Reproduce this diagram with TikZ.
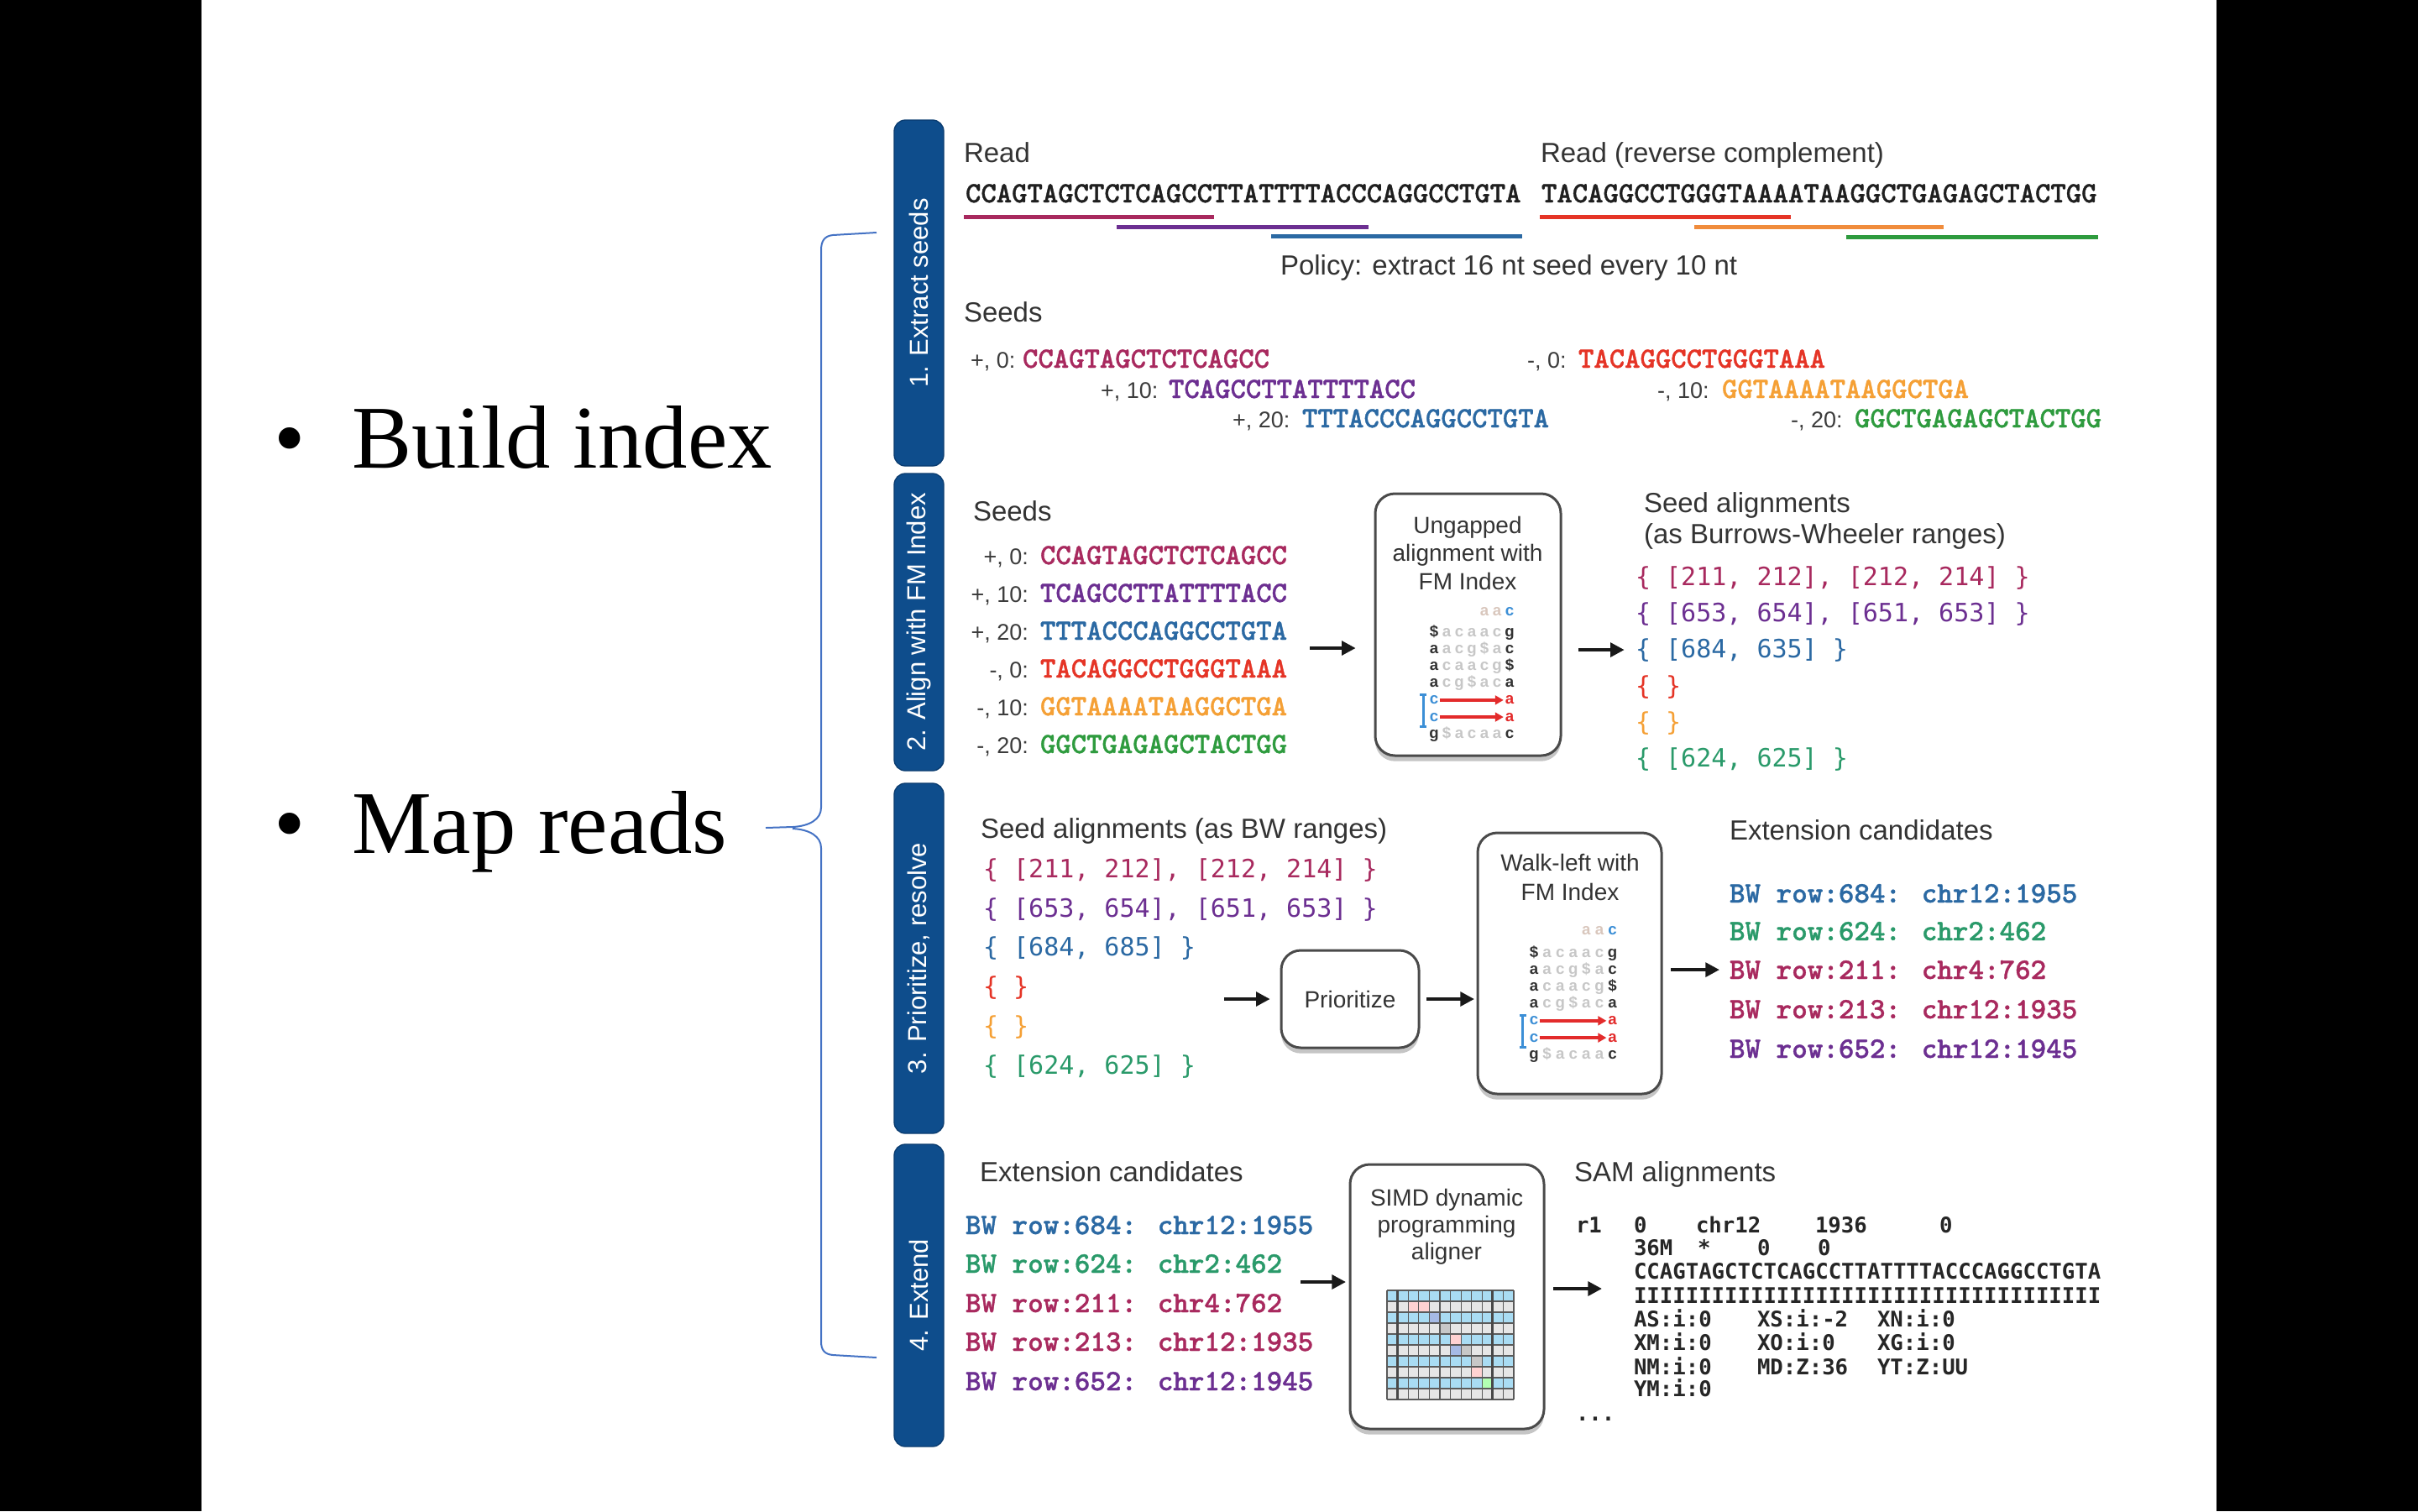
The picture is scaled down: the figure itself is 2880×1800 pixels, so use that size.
\documentclass[tikz,border=0pt]{standalone}
\usepackage{fontspec}
\setmainfont{Liberation Serif}
\newfontfamily\hv{Liberation Sans}
\newfontfamily\dvm{DejaVu Sans Mono}
\newfontfamily\lmb{lmmonolt10-bold.otf}[FakeBold=1.0]
\usetikzlibrary{arrows.meta,shadows,calc}

\definecolor{headc}{HTML}{333333}
\definecolor{labc}{HTML}{3C3C3C}
\definecolor{boxc}{HTML}{4A4A4A}
\definecolor{tabc}{HTML}{0E4D8C}
\definecolor{tabd}{HTML}{0A3C70}
\definecolor{qblue}{HTML}{3C8FD6}
\definecolor{qred}{HTML}{E32B2B}
\definecolor{aacc}{HTML}{D9C7BD}
\definecolor{brc}{HTML}{4472C4}
\definecolor{gblue}{HTML}{A9DCF3}
\definecolor{ggray}{HTML}{E6E6E6}
\definecolor{gline}{HTML}{5A5A5A}
\definecolor{c1}{HTML}{A8295E}
\definecolor{c2}{HTML}{6C2F91}
\definecolor{c3}{HTML}{2B69A3}
\definecolor{c4}{HTML}{E53426}
\definecolor{c5}{HTML}{F5A035}
\definecolor{c5l}{HTML}{F08C3C}
\definecolor{c6}{HTML}{2E9B3E}
\definecolor{c6g}{HTML}{2A9A6A}

\tikzset{
  every node/.style={inner sep=0pt, outer sep=0pt},
  bul/.style={anchor=base west, font=\fontsize{32pt}{38pt}\selectfont, text=black},
  head/.style={anchor=base west, font=\hv\fontsize{9.9pt}{11pt}\selectfont, text=headc},
  lab/.style={anchor=base west, font=\hv\fontsize{8.1pt}{9pt}\selectfont, text=labc},
  labr/.style={lab, anchor=base east},
  seq/.style={anchor=base west, font=\lmb\fontsize{10.5pt}{11pt}\selectfont},
  rng/.style={anchor=base west, font=\dvm\fontsize{9pt}{10pt}\selectfont},
  cand/.style={anchor=base west, font=\lmb\fontsize{10.6pt}{11pt}\selectfont},
  sam/.style={anchor=base west, font=\dvm\bfseries\fontsize{7.7pt}{9pt}\selectfont, text=black!85},
  boxt/.style={anchor=base, font=\hv\fontsize{8.4pt}{9pt}\selectfont, text=headc},
  procbox/.style={draw=boxc, line width=0.9pt, rounded corners=7pt, fill=white,
     drop shadow={shadow xshift=0pt, shadow yshift=-2pt, opacity=0.45}},
  tabbox/.style={fill=tabc, draw=tabd, line width=0.4pt, rounded corners=4pt, rotate=90,
     text=white, font=\hv\fontsize{9.3pt}{10pt}\selectfont},
  arr/.style={-{Triangle[length=5pt,width=5pt]}, line width=1.2pt, draw=black!90},
  redarr/.style={-{Triangle[length=3pt,width=3.2pt]}, line width=1pt, draw=qred, shorten <=0.4pt, shorten >=0.6pt},
  uline/.style={line width=1.5pt},
  bwtb/.style={anchor=base, font=\hv\bfseries\fontsize{5.6pt}{6pt}\selectfont, text=black!80},
  bwtm/.style={anchor=base, font=\hv\bfseries\fontsize{5.6pt}{6pt}\selectfont, text=black!22},
  brace/.style={draw=brc, line width=0.6pt},
}

% one row of the BWT matrix: #1 prefix, #2 x0, #3 baseline, #4 dx, #5 first, #6 middle list, #7 last
\newcommand{\bwtrow}[7]{%
  \node[bwtb] (#1f) at ({#2},{#3}) {#5};
  \foreach \ch [count=\cc] in {#6} {\node[bwtm] (#1m\cc) at ({#2+\cc*#4},{#3}) {\ch};}
  \node[bwtb] (#1l) at ({#2+6*#4},{#3}) {#7};
}
% BWT matrix: #1 prefix, #2 x0, #3 top baseline, #4 dx, #5 dy, #6 first row baseline
\newcommand{\bwtbox}[6]{%
  \node[bwtm,text=aacc] (#1ta) at ({#2+4*#4},{#3}) {a};
  \node[bwtm,text=aacc] (#1tb) at ({#2+5*#4},{#3}) {a};
  \node[bwtb,text=qblue] (#1tc) at ({#2+6*#4},{#3}) {c};
  \bwtrow{#1a}{#2}{#6}{#4}{\$}{a,c,a,a,c}{g}
  \bwtrow{#1b}{#2}{#6+#5}{#4}{a}{a,c,g,\$,a}{c}
  \bwtrow{#1c}{#2}{#6+2*#5}{#4}{a}{c,a,a,c,g}{\$}
  \bwtrow{#1d}{#2}{#6+3*#5}{#4}{a}{c,g,\$,a,c}{a}
  \node[bwtb,text=qblue] (#1ef) at ({#2},{#6+4*#5}) {c};
  \node[bwtb,text=qred] (#1el) at ({#2+6*#4},{#6+4*#5}) {a};
  \node[bwtb,text=qblue] (#1ff) at ({#2},{#6+5*#5}) {c};
  \node[bwtb,text=qred] (#1fl) at ({#2+6*#4},{#6+5*#5}) {a};
  \draw[redarr] (#1ef.east) -- (#1el.west);
  \draw[redarr] (#1ff.east) -- (#1fl.west);
  \bwtrow{#1g}{#2}{#6+6*#5}{#4}{g}{\$,a,c,a,a}{c}
  \draw[qblue, line width=0.9pt] ({#2-0.85*#4},{#6+4*#5-11}) -- ({#2-0.85*#4},{#6+5*#5+6});
  \draw[qblue, line width=0.9pt] ({#2-0.85*#4-4},{#6+4*#5-11}) -- ({#2-0.85*#4+4},{#6+4*#5-11});
  \draw[qblue, line width=0.9pt] ({#2-0.85*#4-4},{#6+5*#5+6}) -- ({#2-0.85*#4+4},{#6+5*#5+6});
}

\begin{document}
\begin{tikzpicture}[x=0.3pt,y=-0.3pt]
\useasboundingbox (0,0) rectangle (2880,1800);
\fill[white] (0,0) rectangle (2880,1800);
\fill[black] (0,0) rectangle (240,1800);
\fill[black] (2640,0) rectangle (2880,1800);

% ---------- bullets ----------
\node[bul] (b1) at (326,557) {•};
\node[bul] (t1) at (419,557) {Build index};
\node[bul] (b2) at (326,1016) {•};
\node[bul] (t2) at (419,1016) {Map reads};

% ---------- brace ----------
\draw[brace] (1044,277) -- (992,280) .. controls (982,281) and (978,287) .. (978,298)
   -- (978,962) .. controls (978,976) and (964,984) .. (944,985) -- (912,986);
\draw[brace] (944,987) .. controls (964,988) and (978,996) .. (978,1010)
   -- (978,1598) .. controls (978,1608) and (982,1613) .. (992,1614) -- (1044,1617);

% ---------- tabs ----------
\node[tabbox, minimum width=123.6pt, minimum height=17.7pt] (tab1) at (1094.5,349) {1. Extract seeds};
\node[tabbox, minimum width=106.2pt, minimum height=17.7pt] (tab2) at (1094.5,741) {2. Align with FM Index};
\node[tabbox, minimum width=125.1pt, minimum height=17.7pt] (tab3) at (1094.5,1141.5) {3. Prioritize, resolve};
\node[tabbox, minimum width=108pt, minimum height=17.7pt] (tab4) at (1094.5,1543) {4. Extend};

% ---------- section 1 ----------
\node[head] (s1read) at (1148,193) {Read};
\node[seq,text=black!88] (s1seq) at (1150,241) {CCAGTAGCTCTCAGCCTTATTTTACCCAGGCCTGTA};
\node[head] (s1rc) at (1835,193) {Read (reverse complement)};
\node[seq,text=black!88] (s1rcseq) at (1836,241) {TACAGGCCTGGGTAAAATAAGGCTGAGAGCTACTGG};
\draw[uline,c1] (1148,258) -- (1446,258);
\draw[uline,c2] (1330,270) -- (1630,270);
\draw[uline,c3] (1514,281) -- (1813,281);
\draw[uline,c4] (1834,258) -- (2133,258);
\draw[uline,c5l] (2018,270) -- (2315,270);
\draw[uline,c6] (2199,282) -- (2499,282);
\node[head] (s1pol) at (1525,327) {Policy: extract 16 nt seed every 10 nt};
\node[head] (s1seeds) at (1148,383) {Seeds};
\node[lab] (s1l1) at (1156,438) {+, 0:};
\node[seq,text=c1] (s1q1) at (1218,438) {CCAGTAGCTCTCAGCC};
\node[lab] (s1l2) at (1311,474) {+, 10:};
\node[seq,text=c2] (s1q2) at (1392,474) {TCAGCCTTATTTTACC};
\node[lab] (s1l3) at (1468,509) {+, 20:};
\node[seq,text=c3] (s1q3) at (1551,509) {TTTACCCAGGCCTGTA};
\node[lab] (s1l4) at (1819,438) {-, 0:};
\node[seq,text=c4] (s1q4) at (1880,438) {TACAGGCCTGGGTAAA};
\node[lab] (s1l5) at (1974,474) {-, 10:};
\node[seq,text=c5] (s1q5) at (2051,474) {GGTAAAATAAGGCTGA};
\node[lab] (s1l6) at (2133,509) {-, 20:};
\node[seq,text=c6] (s1q6) at (2209,509) {GGCTGAGAGCTACTGG};

% ---------- section 2 ----------
\node[head] (s2h) at (1159,620) {Seeds};
\node[labr] (s2l1) at (1225,672) {+, 0:};
\node[seq,text=c1] (s2q1) at (1239,672) {CCAGTAGCTCTCAGCC};
\node[labr] (s2l2) at (1225,717) {+, 10:};
\node[seq,text=c2] (s2q2) at (1239,717) {TCAGCCTTATTTTACC};
\node[labr] (s2l3) at (1225,762) {+, 20:};
\node[seq,text=c3] (s2q3) at (1239,762) {TTTACCCAGGCCTGTA};
\node[labr] (s2l4) at (1225,807) {-, 0:};
\node[seq,text=c4] (s2q4) at (1239,807) {TACAGGCCTGGGTAAA};
\node[labr] (s2l5) at (1225,852) {-, 10:};
\node[seq,text=c5] (s2q5) at (1239,852) {GGTAAAATAAGGCTGA};
\node[labr] (s2l6) at (1225,897) {-, 20:};
\node[seq,text=c6] (s2q6) at (1239,897) {GGCTGAGAGCTACTGG};

\node[procbox, minimum width=66.3pt, minimum height=93.6pt] (ungap) at (1748.5,744) {};
\node[boxt] (u1) at (1748,635) {Ungapped};
\node[boxt] (u2) at (1748,668) {alignment with};
\node[boxt] (u3) at (1748,702) {FM Index};
\bwtbox{ua}{1708}{733}{15}{20.2}{758}

\node[head] (s2h2) at (1958,610) {Seed alignments};
\node[head] (s2h3) at (1958,647) {(as Burrows-Wheeler ranges)};
\node[rng,text=c1] (r21) at (1948,697) {\{ [211, 212], [212, 214] \}};
\node[rng,text=c2] (r22) at (1948,740) {\{ [653, 654], [651, 653] \}};
\node[rng,text=c3] (r23) at (1948,783) {\{ [684, 635] \}};
\node[rng,text=c4] (r24) at (1948,827) {\{ \}};
\node[rng,text=c5] (r25) at (1948,870) {\{ \}};
\node[rng,text=c6g] (r26) at (1948,913) {\{ [624, 625] \}};

\coordinate (a21s) at (1560,772);
\draw[arr, shorten >=7pt] (a21s) -- (a21s -| ungap.west);
\draw[arr, shorten <=6.3pt, shorten >=4pt] (ungap.east |- r23.west) -- (r23.west);

% ---------- section 3 ----------
\node[head] (s3h) at (1168,998) {Seed alignments (as BW ranges)};
\node[rng,text=c1] (r31) at (1171,1045) {\{ [211, 212], [212, 214] \}};
\node[rng,text=c2] (r32) at (1171,1092) {\{ [653, 654], [651, 653] \}};
\node[rng,text=c3] (r33) at (1171,1138) {\{ [684, 685] \}};
\node[rng,text=c4] (r34) at (1171,1185) {\{ \}};
\node[rng,text=c5] (r35) at (1171,1232) {\{ \}};
\node[rng,text=c6g] (r36) at (1171,1279) {\{ [624, 625] \}};

\node[procbox, minimum width=49.2pt, minimum height=34.8pt, font=\hv\fontsize{8.4pt}{9pt}\selectfont, text=headc] (prior) at (1608,1190) {Prioritize};
\node[procbox, minimum width=65.7pt, minimum height=93.3pt] (walk) at (1869.5,1147.5) {};
\node[boxt] (w1) at (1870,1037) {Walk-left with};
\node[boxt] (w2) at (1870,1072) {FM Index};
\bwtbox{wa}{1827}{1113}{15.6}{20.2}{1140}

\node[head] (s3h2) at (2060,1000) {Extension candidates};
\node[cand,text=c3] (k31) at (2060,1075) {BW row:684: chr12:1955};
\node[cand,text=c6g] (k32) at (2060,1120) {BW row:624: chr2:462};
\node[cand,text=c1] (k33) at (2060,1166) {BW row:211: chr4:762};
\node[cand,text=c1] (k34) at (2060,1213) {BW row:213: chr12:1935};
\node[cand,text=c2] (k35) at (2060,1260) {BW row:652: chr12:1945};

\coordinate (a31s) at (1458,1190);
\draw[arr, shorten >=4pt] (a31s) -- (prior.west);
\draw[arr, shorten <=2.7pt, shorten >=1.2pt] (prior.east) -- (prior.east -| walk.west);
\draw[arr, shorten <=3.3pt, shorten >=3.6pt] (walk.east |- k33.west) -- (k33.west);

% ---------- section 4 ----------
\node[head] (s4h) at (1167,1407) {Extension candidates};
\node[cand,text=c3] (k41) at (1150,1470) {BW row:684: chr12:1955};
\node[cand,text=c6g] (k42) at (1150,1516) {BW row:624: chr2:462};
\node[cand,text=c1] (k43) at (1150,1563) {BW row:211: chr4:762};
\node[cand,text=c1] (k44) at (1150,1609) {BW row:213: chr12:1935};
\node[cand,text=c2] (k45) at (1150,1656) {BW row:652: chr12:1945};

\node[procbox, minimum width=69.3pt, minimum height=94.5pt] (simd) at (1723.5,1544.5) {};
\node[boxt] (m1) at (1723,1436) {SIMD dynamic};
\node[boxt] (m2) at (1723,1468) {programming};
\node[boxt] (m3) at (1723,1500) {aligner};

% DP grid
\foreach \r in {0,2,4,6,8} \fill[gblue] (1652,{1537+\r*13}) rectangle (1803,{1550+\r*13});
\foreach \r in {1,3,5,7,9} \fill[ggray] (1652,{1537+\r*13}) rectangle (1803,{1550+\r*13});
\foreach \c/\r/\col in {2/1/pink!70, 3/1/pink!70, 4/2/cyan!45!blue!35, 5/3/black!22, 6/4/pink!70, 6/5/cyan!45!blue!35, 7/5/black!22, 8/6/black!22, 8/7/pink!70, 9/8/green!30}
  \fill[\col] ({1652+\c*12.583},{1537+\r*13}) rectangle ({1652+(\c+1)*12.583},{1550+\r*13});
\foreach \c in {0,1,2,3,4,5,6,7,8,9,10,11,12} \draw[gline, line width=0.35pt] ({1652+\c*12.583},1537) -- ({1652+\c*12.583},1667);
\foreach \r in {0,1,2,3,4,5,6,7,8,9,10} \draw[gline, line width=0.35pt] (1652,{1537+\r*13}) -- (1803,{1537+\r*13});
\draw[gline!80!black, line width=0.9pt] ({1652+1*12.583},1537) -- ({1652+1*12.583},1667);
\draw[gline!80!black, line width=0.9pt] ({1652+10*12.583},1537) -- ({1652+10*12.583},1667);

\node[head] (s4h2) at (1875,1407) {SAM alignments};
\foreach \t/\x/\y [count=\i] in {
  r1/1877/1468, 0/1946/1468, chr12/2020/1468, 1936/2162/1468, 0/2310/1468,
  36M/1946/1495, */2022/1495, 0/2093/1495, 0/2165/1495,
  CCAGTAGCTCTCAGCCTTATTTTACCCAGGCCTGTA/1946/1523,
  IIIIIIIIIIIIIIIIIIIIIIIIIIIIIIIIIIII/1946/1552,
  AS:i:0/1946/1580, XS:i:-2/2093/1580, XN:i:0/2236/1580,
  XM:i:0/1946/1608, XO:i:0/2093/1608, XG:i:0/2236/1608,
  NM:i:0/1946/1637, MD:Z:36/2093/1637, YT:Z:UU/2236/1637,
  YM:i:0/1946/1663}
  \node[sam] (sam\i) at (\x,\y) {\t};
\node[sam] (samdots) at (1877,1692) {...};

\coordinate (a41s) at (1549,1527);
\draw[arr, shorten >=1.5pt] (a41s) -- (a41s -| simd.west);
\coordinate (a42e) at (1908,1535);
\draw[arr, shorten <=3.3pt] (a42e -| simd.east) -- (a42e);

\end{tikzpicture}
\end{document}
